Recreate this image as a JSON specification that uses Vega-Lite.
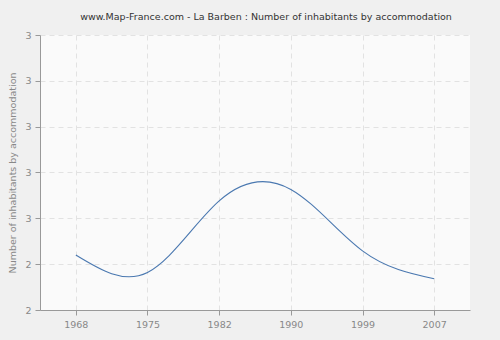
{
  "$schema": "https://vega.github.io/schema/vega-lite/v6.json",
  "width": 430,
  "height": 275,
  "autosize": {"type": "none"},
  "padding": {"left": 40, "top": 35, "right": 30, "bottom": 30},
  "background": "#f0f0f0",
  "title": {
    "text": "www.Map-France.com - La Barben : Number of inhabitants by accommodation",
    "font": "DejaVu Sans",
    "fontSize": 9.5,
    "fontWeight": "normal",
    "color": "#333333",
    "anchor": "middle",
    "dx": 11,
    "offset": 9
  },
  "config": {
    "view": {"fill": "#fafafa", "stroke": null},
    "axis": {
      "labelFont": "DejaVu Sans",
      "labelFontSize": 9.5,
      "labelColor": "#888888",
      "titleFont": "DejaVu Sans",
      "titleFontSize": 9.5,
      "titleColor": "#888888",
      "titleFontWeight": "normal",
      "domainColor": "#999999",
      "tickColor": "#999999",
      "tickSize": 5,
      "gridColor": "#e2e2e2",
      "gridDash": [5, 4]
    }
  },
  "data": {
    "values": [
      {"year": "1968", "value": 2.42},
      {"year": "1975", "value": 2.382},
      {"year": "1982", "value": 2.538},
      {"year": "1990", "value": 2.563},
      {"year": "1999", "value": 2.429},
      {"year": "2007", "value": 2.368}
    ]
  },
  "mark": {"type": "line", "interpolate": "natural", "color": "#4a78b0", "strokeWidth": 1.1},
  "encoding": {
    "x": {
      "field": "year",
      "type": "ordinal",
      "scale": {"type": "point", "padding": 0.5},
      "axis": {"title": null, "labelAngle": 0, "grid": true, "labelPadding": 4}
    },
    "y": {
      "field": "value",
      "type": "quantitative",
      "scale": {"domain": [2.3, 2.9], "nice": false, "zero": false},
      "axis": {
        "title": "Number of inhabitants by accommodation",
        "values": [2.3, 2.4, 2.5, 2.6, 2.7, 2.8, 2.9],
        "format": ".0f",
        "grid": true,
        "titlePadding": 7,
        "labelPadding": 4
      }
    }
  }
}
